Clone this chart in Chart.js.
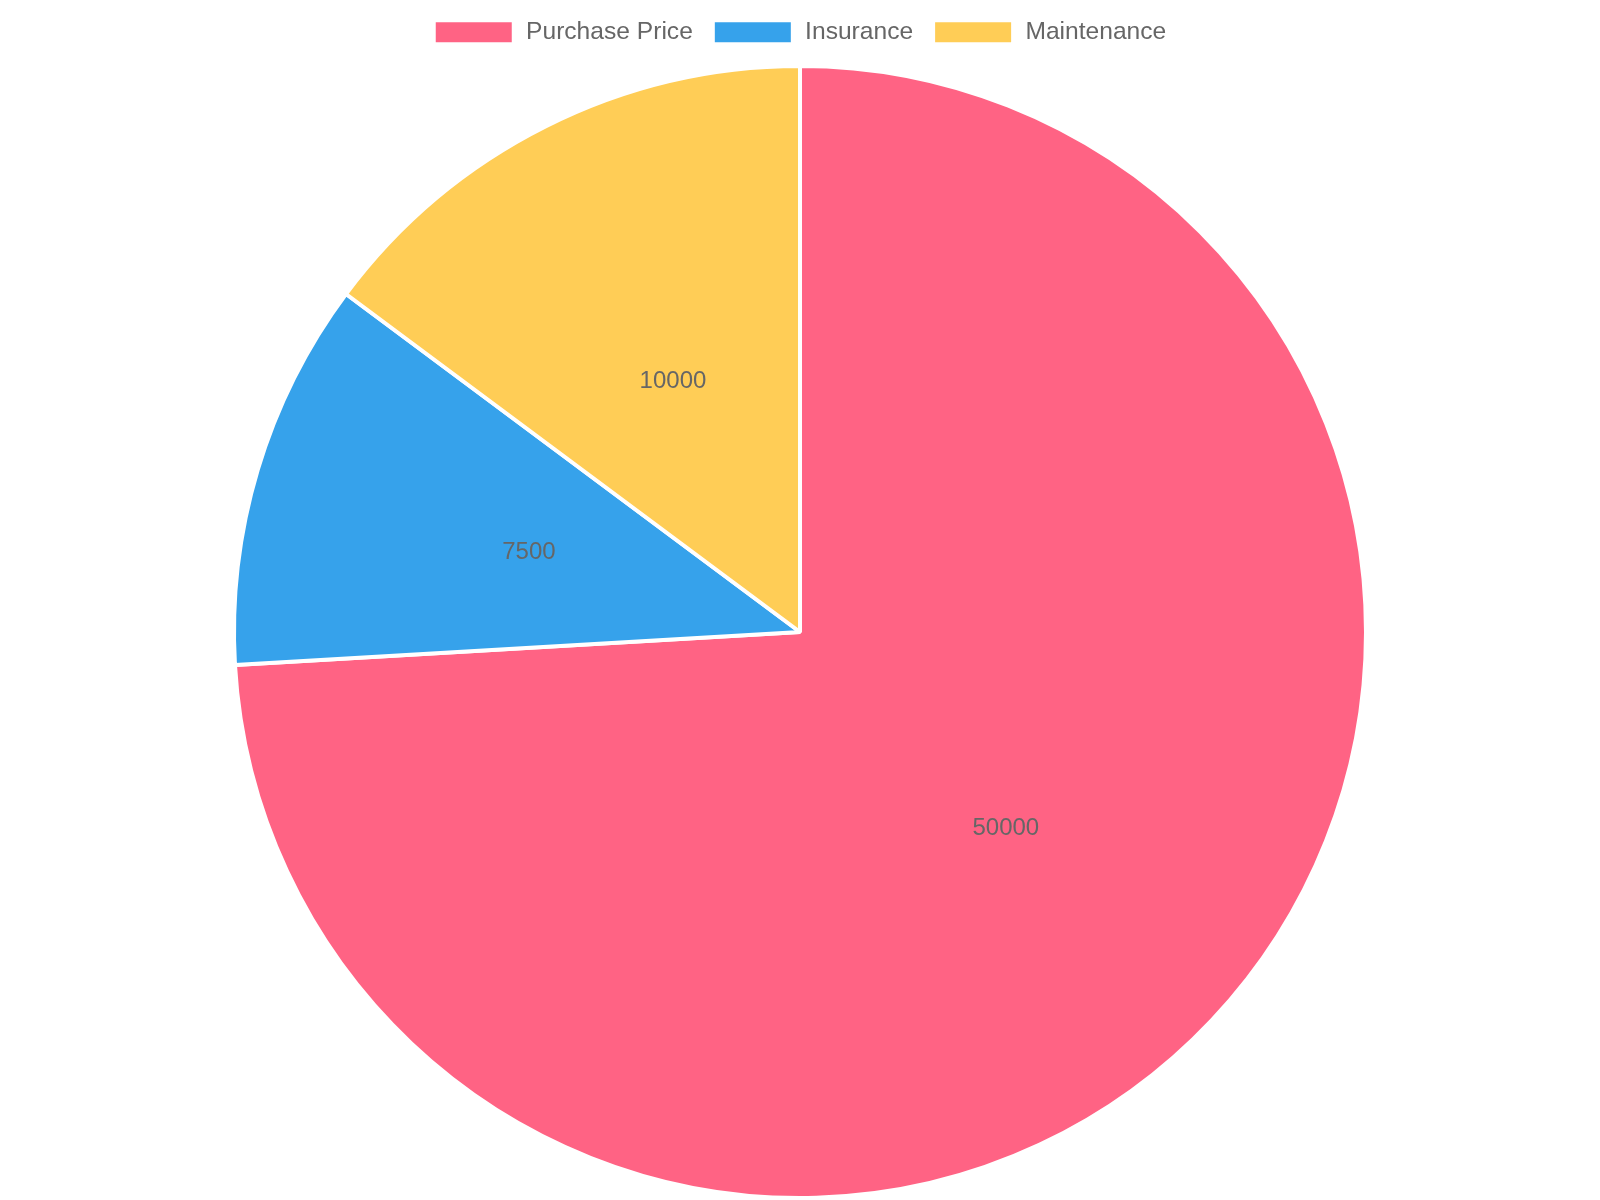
<!DOCTYPE html>
<html>
<head>
<meta charset="utf-8">
<script src="https://cdn.jsdelivr.net/npm/chart.js@4/dist/chart.umd.min.js"></script>
<style>
  html, body { margin: 0; padding: 0; background: #fff; }
  #wrap { width: 1600px; height: 1200px; }
</style>
</head>
<body>
<div id="wrap"><canvas id="c" width="1600" height="1200"></canvas></div>
<script>
const categories = ["Purchase Price", "Insurance", "Maintenance"];
const costValues = [50000, 7500, 10000];
const sliceColors = ["rgb(255, 99, 132)", "rgb(54, 162, 235)", "rgb(255, 205, 86)"];

const centerLabels = {
  id: 'centerLabels',
  afterDatasetsDraw(chart) {
    const ctx = chart.ctx;
    const meta = chart.getDatasetMeta(0);
    ctx.save();
    ctx.font = '24px "Liberation Sans", Arial, sans-serif';
    ctx.fillStyle = '#666';
    ctx.textAlign = 'center';
    ctx.textBaseline = 'middle';
    meta.data.forEach((arc, i) => {
      const p = arc.getProps(['x', 'y', 'startAngle', 'endAngle', 'outerRadius', 'innerRadius'], true);
      const a = (p.startAngle + p.endAngle) / 2;
      const r = (p.outerRadius + p.innerRadius) / 2;
      ctx.fillText(String(chart.data.datasets[0].data[i]), p.x + Math.cos(a) * r, p.y + Math.sin(a) * r + 2);
    });
    ctx.restore();
  }
};

new Chart(document.getElementById('c'), {
  type: 'pie',
  data: {
    labels: categories,
    datasets: [{
      data: costValues,
      backgroundColor: sliceColors,
      borderColor: '#fff',
      borderWidth: 4,
      hoverOffset: 1
    }]
  },
  options: {
    responsive: false,
    devicePixelRatio: 1,
    animation: false,
    layout: { padding: 0 },
    plugins: {
      legend: {
        position: 'top',
        labels: {
          boxWidth: 80,
          boxHeight: 24,
          padding: 20,
          color: '#666',
          font: { size: 24.6, family: '"Liberation Sans", Arial, sans-serif' }
        }
      },
      title: {
        display: true,
        text: '',
        weight: 500,
        font: { size: 1, lineHeight: 1 },
        padding: { top: 4.2, bottom: 4.2 }
      },
      tooltip: { enabled: false }
    }
  },
  plugins: [centerLabels]
});
</script>
</body>
</html>
